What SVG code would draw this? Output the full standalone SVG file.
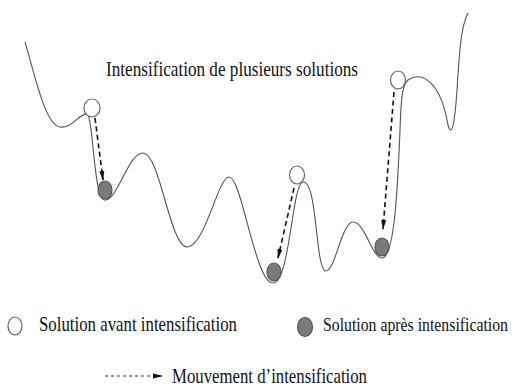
<svg xmlns="http://www.w3.org/2000/svg" width="530" height="387" viewBox="0 0 530 387">
<style>
.curve{fill:none;stroke:#555;stroke-width:1.1}
.before{fill:#fff;stroke:#666;stroke-width:1.2}
.after{fill:#7a7a7a;stroke:#555;stroke-width:1.2}
.move{fill:none;stroke:#111;stroke-width:1.6;stroke-dasharray:5,3.5}
.lbl{font-family:"Liberation Serif","Times New Roman",serif;fill:#111}
</style>
<defs>
<marker id="ah" markerWidth="10" markerHeight="6" refX="9" refY="3" orient="auto" markerUnits="userSpaceOnUse">
<path d="M0,0.5 L10,3 L0,5.5 Z" fill="#111"/>
</marker>
</defs>
<rect width="530" height="387" fill="#fff"/>
<g id="landscape">
<path class="curve" d="M25,42 C35,75 45,125 60,127 C72,129 80,112 88,114 C94,130 94,200 105,200 C118,200 128,153 143,153 C160,153 170,247 187,247 C205,247 218,177 229,177 C242,177 255,283 273,283 C290,283 292,183 303,182 C318,181 315,271 326,271 C335,271 342,222 353,222 C365,222 372,258 382,258 C395,258 398,180 400,130 C401,100 402,85 408,80 C420,72 440,78 448,125 C452,140 455,120 457,90 C460,40 462,25 468,13"/>
</g>
<text id="title" class="lbl" transform="translate(106,76) scale(1,1.25)" font-size="17" textLength="252" lengthAdjust="spacingAndGlyphs">Intensification de plusieurs solutions</text>
<g id="connectors">
<path class="move" d="M95,118 L103,180" marker-end="url(#ah)"/>
<path class="move" d="M294,188 L278,258" marker-end="url(#ah)"/>
<path class="move" d="M394,92 L383,229" marker-end="url(#ah)"/>
</g>
<g id="s1-before"><ellipse class="before" cx="92" cy="108" rx="8" ry="9"/></g>
<g id="s1-after"><ellipse class="after" cx="105" cy="190" rx="7" ry="9"/></g>
<g id="s2-before"><ellipse class="before" cx="297" cy="175" rx="7.5" ry="9"/></g>
<g id="s2-after"><ellipse class="after" cx="274" cy="272" rx="7" ry="9"/></g>
<g id="s3-before"><ellipse class="before" cx="398" cy="80" rx="7.5" ry="9"/></g>
<g id="s3-after"><ellipse class="after" cx="382" cy="247" rx="7" ry="9"/></g>
<g id="legend">
<ellipse class="before" cx="15" cy="326" rx="7" ry="9"/>
<text class="lbl" transform="translate(39,331) scale(1,1.25)" font-size="16.8" textLength="198" lengthAdjust="spacingAndGlyphs">Solution avant intensification</text>
<ellipse class="after" cx="305" cy="327" rx="7.5" ry="9.5"/>
<text class="lbl" transform="translate(323,331) scale(1,1.25)" font-size="15.8" textLength="185" lengthAdjust="spacingAndGlyphs">Solution après intensification</text>
<path d="M105,376 L162,376" fill="none" stroke="#333" stroke-width="1.2" stroke-dasharray="3,3" marker-end="url(#ah)"/>
<text class="lbl" transform="translate(172,383) scale(1,1.25)" font-size="16.7" textLength="195" lengthAdjust="spacingAndGlyphs">Mouvement d’intensification</text>
</g>
</svg>
